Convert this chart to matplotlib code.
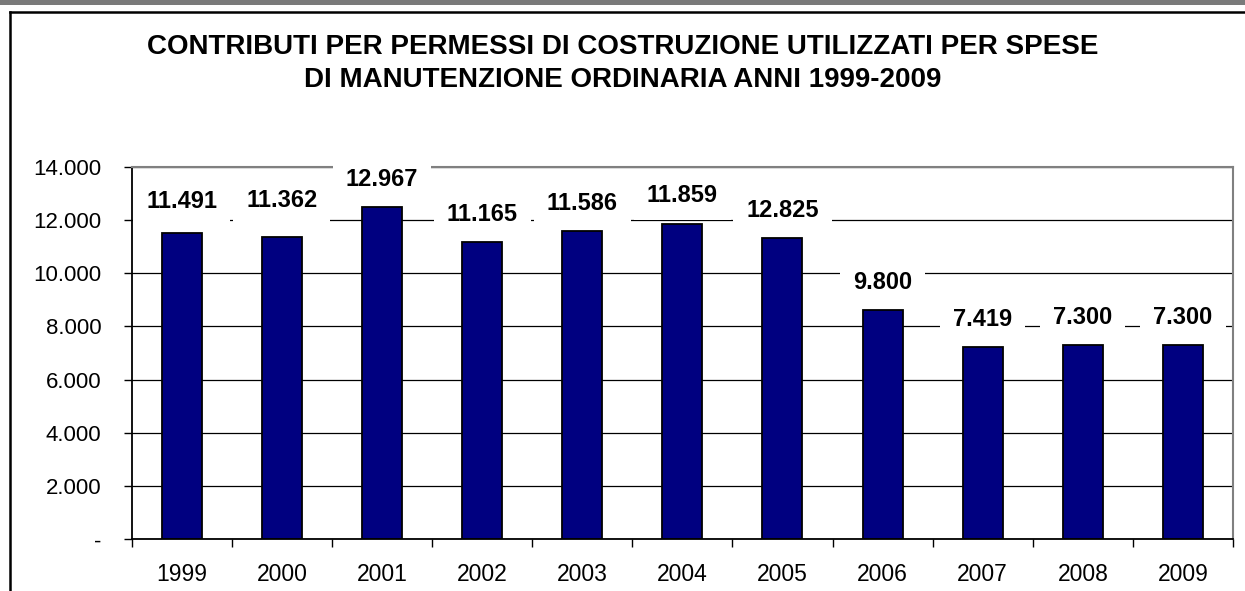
import matplotlib
matplotlib.use("Agg")
import matplotlib.pyplot as plt
from matplotlib.patches import Rectangle
from matplotlib.lines import Line2D
from matplotlib.ticker import FuncFormatter, MultipleLocator

years = ["1999", "2000", "2001", "2002", "2003", "2004", "2005", "2006", "2007", "2008", "2009"]
bar_values = [11491, 11362, 12470, 11165, 11586, 11859, 11325, 8620, 7220, 7300, 7300]
label_values = [11491, 11362, 12967, 11165, 11586, 11859, 12825, 9800, 7419, 7300, 7300]
title_lines = ["CONTRIBUTI PER PERMESSI DI COSTRUZIONE UTILIZZATI PER SPESE",
               "DI MANUTENZIONE ORDINARIA ANNI 1999-2009"]

plt.rcParams['font.family'] = ['Liberation Sans', 'DejaVu Sans']

W, H = 1245, 591
fig = plt.figure(figsize=(W / 100, H / 100), dpi=100)

# outer frame decorations
fig.add_artist(Rectangle((0, 1 - 5 / H), 1, 5 / H, transform=fig.transFigure,
                         facecolor="#7a7a7a", edgecolor="none"))
fig.add_artist(Line2D([10 / W, 1], [1 - 12 / H, 1 - 12 / H], transform=fig.transFigure,
                      color="black", lw=1.8))
fig.add_artist(Line2D([10 / W, 10 / W], [0, 1 - 12 / H], transform=fig.transFigure,
                      color="black", lw=1.8))

ax = fig.add_axes([131.7 / W, 1 - 539.3 / H, (1233 - 131.7) / W, (539.3 - 166.7) / H])
x = list(range(len(years)))
ax.bar(x, bar_values, width=0.4, color="#000080", edgecolor="black", linewidth=1.3, zorder=2)
ax.set_xlim(-0.5, len(years) - 0.5)
ax.set_ylim(0, 14000)
ax.yaxis.set_major_locator(MultipleLocator(2000))
ax.yaxis.grid(True, color="black", lw=0.9)
ax.set_axisbelow(True)

def fmt(v, pos):
    if abs(v) < 1e-6:
        return "-"
    return f"{int(round(v)):,}".replace(",", ".")

ax.yaxis.set_major_formatter(FuncFormatter(fmt))
ax.set_xticks(x)
ax.set_xticklabels(years)
ax.set_xticks([i - 0.5 for i in range(len(years) + 1)], minor=True)
ax.tick_params(axis="x", which="major", length=0, labelsize=16.5, pad=17)
ax.tick_params(axis="x", which="minor", length=6, width=1, direction="out")
ax.tick_params(axis="y", length=6, width=1, direction="out", labelsize=16, pad=16)

for s in ["top", "right"]:
    ax.spines[s].set_color("#808080")
    ax.spines[s].set_linewidth(1.5)
for s in ["left", "bottom"]:
    ax.spines[s].set_color("black")
    ax.spines[s].set_linewidth(1.3)

extra = {0: 3, 1: 6}
for i, (bv, lv) in enumerate(zip(bar_values, label_values)):
    ax.annotate(fmt(lv, None), xy=(i, bv), xytext=(0, 20 + extra.get(i, 0)),
                textcoords="offset points", ha="center", va="center",
                fontsize=17, fontweight="bold", annotation_clip=False, zorder=5,
                bbox=dict(boxstyle="square,pad=0.55", facecolor="white", edgecolor="none"))

fig.text(0.5, 1 - 47 / H, title_lines[0], ha="center", va="center", fontsize=20,
         fontweight="bold")
fig.text(0.5, 1 - 80 / H, title_lines[1], ha="center", va="center", fontsize=20,
         fontweight="bold")

fig.savefig("out.png", dpi=100)
